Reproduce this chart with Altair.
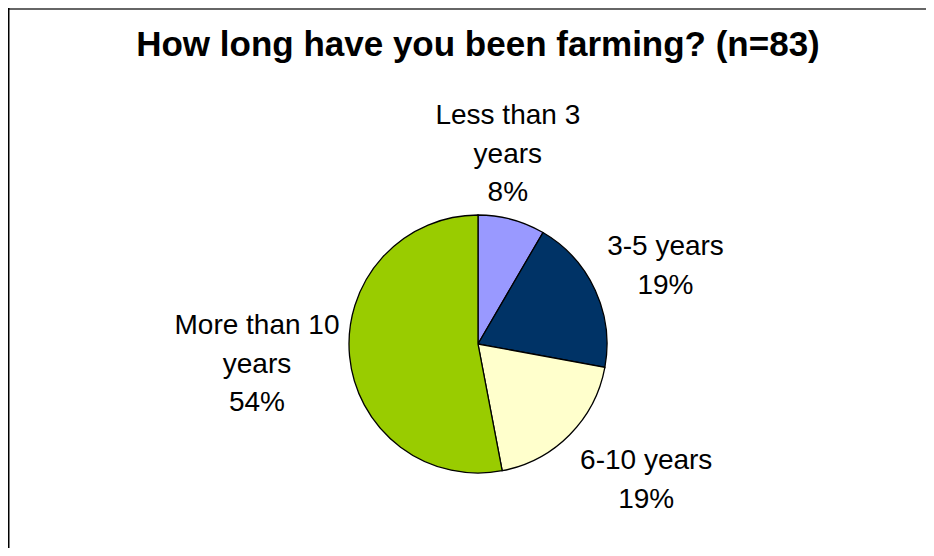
import math
import altair as alt
import pandas as pd

# ---- data ----
title_text = "How long have you been farming? (n=83)"
categories = ["Less than 3 years", "3-5 years", "6-10 years", "More than 10 years"]
shares = [8.4, 19.5, 19.1, 53.0]          # slice sizes (percent)
label_lines = ["Less than 3|years|8%", "3-5 years|19%", "6-10 years|19%", "More than 10|years|54%"]
colors = ["#9999FF", "#003366", "#FFFFCC", "#99CC00"]

total = sum(shares)
df = pd.DataFrame({
    "category": categories,
    "share": shares,
    "label": label_lines,
    "order": list(range(len(categories))),
})

W, H = 918, 540
CX, CY = 470, 336
R = 129
FONT = "Liberation Sans"
LH = 38.5

theta_scale = alt.Scale(domain=[0, total], range=[0, 2 * math.pi])

base = alt.Chart(df)

pie = base.mark_arc(radius=R, stroke="black", strokeWidth=1.3).encode(
    theta=alt.Theta("share:Q", stack=True, scale=theta_scale),
    color=alt.Color("category:N", scale=alt.Scale(domain=categories, range=colors), legend=None),
    order=alt.Order("order:Q"),
    x=alt.value(CX),
    y=alt.value(CY),
)

# per-label placement styles (radius, dx, dy)
label_styles = [(191, -20, -5), (203, 3, 7), (216, 15, -16), (222, 0, 0)]

label_layers = []
for i, (rad, dx, dy) in enumerate(label_styles):
    n_lines = len(label_lines[i].split("|"))
    lyr = (
        base.transform_window(cum="sum(share)", sort=[alt.SortField("order")], frame=[None, 0])
        .transform_calculate(mid="datum.cum - datum.share / 2", lines="split(datum.label, '|')")
        .transform_filter(alt.datum.order == i)
        .mark_text(radius=rad, dx=dx, dy=dy - (n_lines - 1) * LH / 2, fontSize=28,
                   lineHeight=LH, font=FONT, align="center", baseline="middle", color="black")
        .encode(
            theta=alt.Theta("mid:Q", scale=theta_scale),
            text=alt.Text("lines:N"),
            x=alt.value(CX),
            y=alt.value(CY),
        )
    )
    label_layers.append(lyr)

one = alt.Chart(pd.DataFrame({"t": [title_text]}))
title = one.mark_text(fontSize=35, fontWeight="bold", font=FONT, align="center",
                      baseline="middle", color="black").encode(
    text="t:N", x=alt.value(CX), y=alt.value(37))

top_border = one.mark_rule(color="#666666", strokeWidth=2, strokeCap="butt").encode(
    x=alt.value(0), x2=alt.value(W), y=alt.value(1))
left_border = one.mark_rule(color="black", strokeWidth=1.5, strokeCap="butt").encode(
    x=alt.value(0.75), y=alt.value(0), y2=alt.value(H))

chart = alt.layer(pie, *label_layers, title, top_border, left_border).resolve_scale(
    theta="independent"
).properties(
    width=W, height=H, autosize=alt.AutoSizeParams(type="none"), padding=0
).configure_view(stroke=None).configure(background="white")

chart.save("out.html", embed_options={"renderer": "svg", "actions": False})
